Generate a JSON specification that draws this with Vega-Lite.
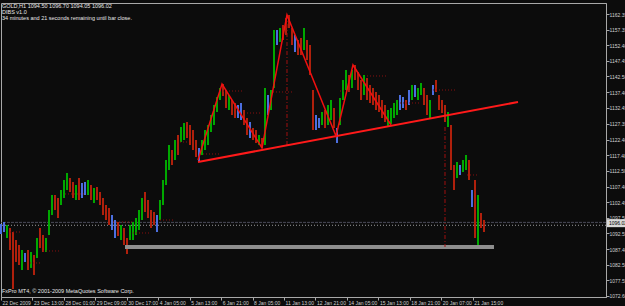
{
  "$schema": "https://vega.github.io/schema/vega-lite/v6.json",
  "autosize": "none",
  "width": 605,
  "height": 294,
  "padding": {"left": 1, "top": 3, "right": 19, "bottom": 9},
  "background": "#0c0c0c",
  "config": {
    "view": {"stroke": "#a8a8a8", "fill": "#0c0c0c"},
    "font": "Liberation Sans",
    "axis": {"grid": false, "domainColor": "#a8a8a8", "tickColor": "#a8a8a8", "labelColor": "#d0d0d0", "labelFont": "Liberation Sans", "labelFontSize": 5, "title": null, "tickSize": 3}
  },
  "datasets": {
    "one": [{}],
    "bars": [
      {"i":0,"h":1095.51,"l":1092.33,"k":"in"},{"i":1,"h":1096.15,"l":1092.96,"k":"in"},{"i":2,"h":1095.19,"l":1091.05,"k":"up"},{"i":3,"h":1094.24,"l":1087.23,"k":"dn"},
      {"i":4,"h":1092.96,"l":1074.82,"k":"dn"},{"i":5,"h":1090.42,"l":1083.42,"k":"dn"},{"i":6,"h":1088.83,"l":1082.46,"k":"dn"},{"i":7,"h":1087.23,"l":1080.87,"k":"up"},
      {"i":8,"h":1086.28,"l":1083.42,"k":"in"},{"i":9,"h":1087.23,"l":1080.87,"k":"dn"},{"i":10,"h":1086.60,"l":1081.51,"k":"up"},{"i":11,"h":1085.64,"l":1079.28,"k":"dn"},
      {"i":12,"h":1091.05,"l":1084.69,"k":"up"},{"i":13,"h":1094.24,"l":1087.87,"k":"dn"},{"i":14,"h":1092.01,"l":1086.60,"k":"dn"},{"i":15,"h":1091.05,"l":1086.60,"k":"up"},
      {"i":16,"h":1099.97,"l":1092.01,"k":"up"},{"i":17,"h":1104.74,"l":1098.38,"k":"up"},{"i":18,"h":1104.74,"l":1099.97,"k":"dn"},{"i":19,"h":1103.79,"l":1097.42,"k":"dn"},
      {"i":20,"h":1106.33,"l":1101.56,"k":"up"},{"i":21,"h":1109.52,"l":1103.79,"k":"up"},{"i":22,"h":1111.74,"l":1106.33,"k":"up"},{"i":23,"h":1110.15,"l":1105.70,"k":"dn"},
      {"i":24,"h":1108.88,"l":1103.79,"k":"dn"},{"i":25,"h":1107.92,"l":1103.15,"k":"up"},{"i":26,"h":1110.15,"l":1103.15,"k":"dn"},{"i":27,"h":1108.56,"l":1103.79,"k":"in"},
      {"i":28,"h":1108.88,"l":1104.74,"k":"in"},{"i":29,"h":1109.52,"l":1104.74,"k":"up"},{"i":30,"h":1107.92,"l":1103.15,"k":"dn"},{"i":31,"h":1106.97,"l":1102.20,"k":"up"},
      {"i":32,"h":1107.29,"l":1103.15,"k":"dn"},{"i":33,"h":1105.70,"l":1101.56,"k":"dn"},{"i":34,"h":1103.79,"l":1098.38,"k":"dn"},{"i":35,"h":1101.56,"l":1096.78,"k":"dn"},
      {"i":36,"h":1100.60,"l":1095.19,"k":"dn"},{"i":37,"h":1098.38,"l":1093.60,"k":"in"},{"i":38,"h":1096.78,"l":1091.05,"k":"in"},{"i":39,"h":1096.15,"l":1091.69,"k":"dn"},
      {"i":40,"h":1095.19,"l":1090.42,"k":"up"},{"i":41,"h":1094.24,"l":1088.83,"k":"dn"},{"i":42,"h":1091.05,"l":1085.96,"k":"dn"},{"i":43,"h":1095.19,"l":1090.42,"k":"up"},
      {"i":44,"h":1096.15,"l":1090.42,"k":"up"},{"i":45,"h":1097.42,"l":1092.01,"k":"up"},{"i":46,"h":1099.97,"l":1093.60,"k":"up"},{"i":47,"h":1103.79,"l":1096.78,"k":"up"},
      {"i":48,"h":1105.70,"l":1099.33,"k":"dn"},{"i":49,"h":1103.15,"l":1097.42,"k":"dn"},{"i":50,"h":1099.97,"l":1094.24,"k":"dn"},{"i":51,"h":1099.33,"l":1095.19,"k":"dn"},
      {"i":52,"h":1098.38,"l":1092.96,"k":"in"},{"i":53,"h":1103.15,"l":1096.78,"k":"up"},{"i":54,"h":1109.52,"l":1101.56,"k":"up"},{"i":55,"h":1115.88,"l":1107.92,"k":"up"},
      {"i":56,"h":1120.66,"l":1112.70,"k":"up"},{"i":57,"h":1119.06,"l":1114.29,"k":"dn"},{"i":58,"h":1122.25,"l":1115.88,"k":"up"},{"i":59,"h":1123.84,"l":1117.47,"k":"dn"},
      {"i":60,"h":1126.39,"l":1121.61,"k":"up"},{"i":61,"h":1127.66,"l":1122.25,"k":"up"},{"i":62,"h":1127.98,"l":1122.88,"k":"dn"},{"i":63,"h":1127.02,"l":1120.66,"k":"dn"},
      {"i":64,"h":1125.43,"l":1119.06,"k":"dn"},{"i":65,"h":1122.25,"l":1116.84,"k":"dn"},{"i":66,"h":1119.70,"l":1115.56,"k":"in"},{"i":67,"h":1122.25,"l":1117.47,"k":"up"},
      {"i":68,"h":1125.43,"l":1119.06,"k":"up"},{"i":69,"h":1127.02,"l":1120.66,"k":"up"},{"i":70,"h":1130.21,"l":1124.79,"k":"up"},{"i":71,"h":1133.39,"l":1127.02,"k":"up"},
      {"i":72,"h":1135.93,"l":1131.16,"k":"up"},{"i":73,"h":1138.80,"l":1134.98,"k":"up"},{"i":74,"h":1140.07,"l":1136.25,"k":"dn"},{"i":75,"h":1138.16,"l":1132.43,"k":"dn"},
      {"i":76,"h":1136.57,"l":1131.80,"k":"up"},{"i":77,"h":1134.98,"l":1130.21,"k":"dn"},{"i":78,"h":1134.03,"l":1129.25,"k":"dn"},{"i":79,"h":1133.39,"l":1129.25,"k":"in"},
      {"i":80,"h":1134.03,"l":1128.61,"k":"in"},{"i":81,"h":1131.80,"l":1127.02,"k":"dn"},{"i":82,"h":1129.25,"l":1123.84,"k":"dn"},{"i":83,"h":1127.98,"l":1122.88,"k":"in"},
      {"i":84,"h":1126.07,"l":1122.25,"k":"dn"},{"i":85,"h":1125.43,"l":1121.29,"k":"dn"},{"i":86,"h":1123.84,"l":1120.66,"k":"up"},{"i":87,"h":1122.88,"l":1119.70,"k":"dn"},
      {"i":88,"h":1138.80,"l":1120.66,"k":"up"},{"i":89,"h":1136.57,"l":1130.21,"k":"in"},{"i":90,"h":1138.16,"l":1131.80,"k":"up"},{"i":91,"h":1157.26,"l":1138.80,"k":"up"},
      {"i":92,"h":1157.26,"l":1152.49,"k":"in"},{"i":93,"h":1157.90,"l":1153.44,"k":"up"},{"i":94,"h":1158.85,"l":1154.08,"k":"dn"},{"i":95,"h":1161.08,"l":1155.67,"k":"dn"},
      {"i":96,"h":1162.04,"l":1157.90,"k":"dn"},{"i":97,"h":1157.90,"l":1152.49,"k":"dn"},{"i":98,"h":1155.67,"l":1150.26,"k":"in"},{"i":99,"h":1154.08,"l":1149.30,"k":"dn"},
      {"i":100,"h":1154.71,"l":1149.30,"k":"dn"},{"i":101,"h":1157.90,"l":1150.89,"k":"up"},{"i":102,"h":1154.08,"l":1147.71,"k":"dn"},{"i":103,"h":1152.49,"l":1142.94,"k":"dn"},
      {"i":104,"h":1138.16,"l":1125.43,"k":"dn"},{"i":105,"h":1130.21,"l":1125.43,"k":"in"},{"i":106,"h":1129.25,"l":1126.07,"k":"in"},{"i":107,"h":1131.16,"l":1127.02,"k":"up"},
      {"i":108,"h":1131.80,"l":1126.07,"k":"dn"},{"i":109,"h":1133.39,"l":1127.02,"k":"up"},{"i":110,"h":1134.98,"l":1128.61,"k":"up"},{"i":111,"h":1132.43,"l":1126.07,"k":"dn"},
      {"i":112,"h":1126.07,"l":1121.29,"k":"in"},{"i":113,"h":1135.62,"l":1127.02,"k":"up"},{"i":114,"h":1141.35,"l":1134.98,"k":"up"},{"i":115,"h":1144.53,"l":1138.16,"k":"up"},
      {"i":116,"h":1142.94,"l":1137.53,"k":"dn"},{"i":117,"h":1144.53,"l":1138.80,"k":"up"},{"i":118,"h":1146.12,"l":1141.35,"k":"dn"},{"i":119,"h":1143.89,"l":1138.16,"k":"dn"},
      {"i":120,"h":1141.35,"l":1134.98,"k":"dn"},{"i":121,"h":1142.94,"l":1136.57,"k":"up"},{"i":122,"h":1141.98,"l":1134.98,"k":"dn"},{"i":123,"h":1139.75,"l":1134.03,"k":"dn"},
      {"i":124,"h":1138.80,"l":1133.39,"k":"dn"},{"i":125,"h":1137.53,"l":1131.80,"k":"dn"},{"i":126,"h":1136.57,"l":1131.16,"k":"dn"},{"i":127,"h":1134.98,"l":1129.25,"k":"dn"},
      {"i":128,"h":1133.39,"l":1127.98,"k":"dn"},{"i":129,"h":1131.80,"l":1126.70,"k":"up"},{"i":130,"h":1132.43,"l":1127.34,"k":"up"},{"i":131,"h":1134.03,"l":1129.25,"k":"up"},
      {"i":132,"h":1134.98,"l":1130.21,"k":"up"},{"i":133,"h":1136.57,"l":1131.80,"k":"in"},{"i":134,"h":1135.93,"l":1132.43,"k":"in"},{"i":135,"h":1134.98,"l":1131.80,"k":"dn"},
      {"i":136,"h":1138.16,"l":1133.39,"k":"in"},{"i":137,"h":1139.75,"l":1134.98,"k":"up"},{"i":138,"h":1139.75,"l":1135.93,"k":"in"},{"i":139,"h":1138.80,"l":1134.98,"k":"up"},
      {"i":140,"h":1140.39,"l":1136.57,"k":"up"},{"i":141,"h":1138.80,"l":1133.39,"k":"dn"},{"i":142,"h":1136.57,"l":1130.21,"k":"dn"},{"i":143,"h":1134.98,"l":1129.25,"k":"up"},
      {"i":144,"h":1139.75,"l":1136.57,"k":"in"},{"i":145,"h":1141.35,"l":1137.53,"k":"dn"},{"i":146,"h":1136.57,"l":1131.80,"k":"dn"},{"i":147,"h":1134.98,"l":1130.84,"k":"dn"},
      {"i":148,"h":1133.39,"l":1127.98,"k":"dn"},{"i":149,"h":1131.16,"l":1126.39,"k":"up"},{"i":150,"h":1127.02,"l":1112.70,"k":"dn"},{"i":151,"h":1114.29,"l":1106.33,"k":"dn"},
      {"i":152,"h":1115.25,"l":1110.15,"k":"up"},{"i":153,"h":1114.29,"l":1111.11,"k":"in"},{"i":154,"h":1115.88,"l":1112.06,"k":"up"},{"i":155,"h":1117.47,"l":1112.70,"k":"up"},
      {"i":156,"h":1115.88,"l":1109.52,"k":"dn"},{"i":157,"h":1106.33,"l":1100.92,"k":"in"},{"i":158,"h":1109.52,"l":1091.05,"k":"dn"},{"i":159,"h":1104.74,"l":1088.19,"k":"up"},
      {"i":160,"h":1099.01,"l":1094.24,"k":"dn"},{"i":161,"h":1096.78,"l":1092.96,"k":"dn"}
    ],
    "zigzag": [
      {"s":1,"i":65.67,"p":1115.88},{"s":2,"i":73.67,"p":1140.07},{"s":3,"i":87,"p":1119.70},{"s":4,"i":95.33,"p":1162.04},
      {"s":5,"i":111.67,"p":1123.52},{"s":6,"i":117.33,"p":1146.12},{"s":7,"i":130,"p":1127.02}
    ],
    "neck": [{"i":65.67,"p":1115.24},{"i":172.33,"p":1134.34}],
    "vert": [{"i":95.33,"p1":1162.04,"p2":1120.66},{"i":148,"p1":1126.39,"p2":1088.19}],
    "dibs": [
      {"i1":3,"i2":6.33,"p":1092.96},{"i1":9.67,"i2":13.67,"p":1083.10},{"i1":14,"i2":19.67,"p":1086.92},
      {"i1":21.33,"i2":28,"p":1105.06},{"i1":37.33,"i2":43.67,"p":1096.15},{"i1":44,"i2":49.67,"p":1092.65},
      {"i1":53,"i2":58,"p":1096.78},{"i1":59.67,"i2":62,"p":1121.61},{"i1":66.33,"i2":73,"p":1117.79},
      {"i1":74,"i2":80.67,"p":1137.84},{"i1":82,"i2":86.33,"p":1130.84},{"i1":90.67,"i2":97.33,"p":1137.53},
      {"i1":113,"i2":116.33,"p":1137.84},{"i1":122,"i2":128.67,"p":1142.62},{"i1":133,"i2":139.67,"p":1134.03},
      {"i1":144,"i2":151.33,"p":1138.16},{"i1":155.33,"i2":159,"p":1111.11}
    ]
  },
  "encoding": {
    "x": {"type": "quantitative", "scale": {"domain": [0, 201.667], "nice": false, "zero": false},
      "axis": {"orient": "bottom", "values": [0,10.4833,20.9667,31.45,41.9333,52.4167,62.9,73.3833,83.8667,94.35,104.8333,115.3167,125.8,136.2833,146.7667,157.25],
        "labelExpr": "['22 Dec 2009','23 Dec 13:00','28 Dec 01:00','29 Dec 09:00','30 Dec 17:00','4 Jan 05:00','5 Jan 13:00','6 Jan 21:00','8 Jan 05:00','11 Jan 13:00','12 Jan 21:00','14 Jan 05:00','15 Jan 13:00','18 Jan 21:00','20 Jan 07:00','21 Jan 15:00'][round(datum.value/10.48333)]",
        "labelAlign": "left", "labelBaseline": "top", "labelPadding": 0, "labelOffset": 1, "labelOverlap": false, "labelFlush": false, "labelBound": false, "tickSize": 3}},
    "y": {"type": "quantitative", "scale": {"domain": [1072.27, 1165.855], "nice": false, "zero": false},
      "axis": {"orient": "right", "values": [1162.35,1157.35,1152.40,1147.45,1142.50,1137.40,1132.45,1127.35,1122.40,1117.40,1112.50,1107.40,1102.45,1097.50,1092.55,1087.40,1082.50,1077.55,1072.60],
        "format": ".2f", "labelPadding": 0, "labelOverlap": false, "labelFlush": false, "labelBound": false, "tickSize": 3}}
  },
  "layer": [
    {"data": {"name": "one"}, "mark": {"type": "rule", "color": "#4a4a58", "strokeDash": [3, 1], "strokeWidth": 1}, "encoding": {"y": {"datum": 1096.02}, "x": null}},
    {"data": {"name": "one"}, "mark": {"type": "rule", "color": "#9a9a9a", "strokeDash": [1, 2], "strokeWidth": 1}, "encoding": {"y": {"datum": 1095.10}, "x": null}},
    {"data": {"name": "bars"}, "mark": {"type": "rule", "strokeWidth": 2},
      "encoding": {"x": {"field": "i"}, "y": {"field": "l"}, "y2": {"field": "h"},
        "color": {"field": "k", "type": "nominal", "scale": {"domain": ["up", "dn", "in"], "range": ["#00a800", "#b0200c", "#4c6fe0"]}, "legend": null}}},
    {"data": {"name": "one"}, "mark": {"type": "rect", "color": "#8e8e8e"}, "encoding": {"x": {"datum": 41.33}, "x2": {"datum": 164.33}, "y": {"datum": 1088.83}, "y2": {"datum": 1087.55}}},
    {"data": {"name": "dibs"}, "mark": {"type": "rule", "color": "#8a1010", "strokeDash": [1, 2], "strokeWidth": 1},
      "encoding": {"x": {"field": "i1"}, "x2": {"field": "i2"}, "y": {"field": "p"}}},
    {"data": {"name": "vert"}, "mark": {"type": "rule", "color": "#a01010", "strokeDash": [4, 2, 1, 2], "strokeWidth": 1},
      "encoding": {"x": {"field": "i"}, "y": {"field": "p1"}, "y2": {"field": "p2"}}},
    {"data": {"name": "neck"}, "mark": {"type": "line", "color": "#ff1a1a", "strokeWidth": 2},
      "encoding": {"x": {"field": "i"}, "y": {"field": "p"}}},
    {"data": {"name": "zigzag"}, "mark": {"type": "line", "color": "#f01010", "strokeWidth": 1.5},
      "encoding": {"x": {"field": "i"}, "y": {"field": "p"}, "order": {"field": "s"}}},
    {"data": {"name": "one"}, "mark": {"type": "text", "align": "left", "baseline": "top", "dx": 1, "dy": 1, "fontSize": 5.5, "lineHeight": 6, "color": "#e8e8e8", "clip": false},
      "encoding": {"x": {"datum": 0}, "y": {"datum": 1165.855},
        "text": {"value": ["GOLD,H1  1094.50 1096.70 1094.05 1096.02", "DIBS v1.0", "34 minutes and 21 seconds remaining until bar close."]}}},
    {"data": {"name": "one"}, "mark": {"type": "text", "align": "left", "baseline": "alphabetic", "dx": 1, "fontSize": 5.5, "color": "#e8e8e8"},
      "encoding": {"x": {"datum": 0}, "y": {"datum": 1073.5}, "text": {"value": "FxPro MT4, © 2001-2009 MetaQuotes Software Corp."}}},
    {"data": {"name": "one"}, "mark": {"type": "rect", "color": "#d8d8d8", "clip": false},
      "encoding": {"x": {"datum": 202}, "x2": {"datum": 210}, "y": {"datum": 1097.05}, "y2": {"datum": 1094.5}}},
    {"data": {"name": "one"}, "mark": {"type": "text", "align": "left", "baseline": "middle", "dx": 2, "fontSize": 5, "color": "#000000", "clip": false},
      "encoding": {"x": {"datum": 202}, "y": {"datum": 1095.8}, "text": {"value": "1096.02"}}}
  ]
}
